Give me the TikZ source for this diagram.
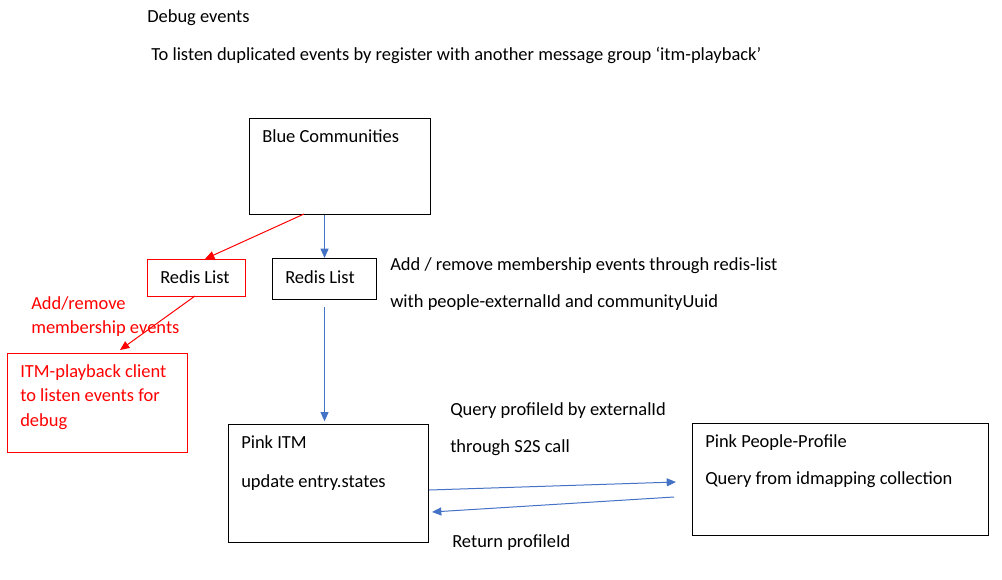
\documentclass[tikz,border=0pt]{standalone}
\usepackage{fontspec}
\setmainfont{Carlito}
\usepackage{tikz}
\usetikzlibrary{positioning,arrows.meta}
\definecolor{flowblue}{HTML}{4472C4}
\definecolor{flowred}{HTML}{FF0000}
\tikzset{
  box/.style={draw, line width=0.8pt, anchor=north west, inner sep=0pt},
  txt/.style={anchor=base west, inner sep=0pt},
  bluearrow/.style={draw=flowblue, line width=0.75pt, -{Triangle[length=7pt,width=6pt]}, color=flowblue},
  redarrow/.style={draw=flowred, line width=0.75pt, -{Triangle[length=7pt,width=6pt]}, color=flowred}
}

\begin{document}
\begin{tikzpicture}[x=0.75pt, y=-0.75pt, font=\fontsize{13.85}{16.6}\selectfont]
  \useasboundingbox (0,0) rectangle (1002,579);

  % header
  \node[txt] (title) at (147,22) {Debug events};
  \node[txt] (intro) at (151,60) {To listen duplicated events by register with another message group ‘itm-playback’};

  % boxes
  \node[box, minimum width=135.75pt, minimum height=72pt] (bc) at (249,118) {};
  \node[txt] at (262,142) {Blue Communities};

  \node[box, draw=flowred, minimum width=73.5pt, minimum height=27.75pt] (redis1) at (147,259) {};
  \node[txt] at (160,283) {Redis List};

  \node[box, minimum width=78pt, minimum height=30.75pt] (redis2) at (272,258) {};
  \node[txt] at (285,283) {Redis List};

  \node[box, draw=flowred, minimum width=135pt, minimum height=74.25pt] (play) at (7,353) {};
  \node[txt, text=flowred] at (20,377) {ITM-playback client};
  \node[txt, text=flowred] at (20,401) {to listen events for};
  \node[txt, text=flowred] at (20,426) {debug};

  \node[box, minimum width=150pt, minimum height=88.5pt] (itm) at (228,424) {};
  \node[txt] at (241,448) {Pink ITM};
  \node[txt] at (241,487) {update entry.states};

  \node[box, minimum width=222pt, minimum height=84pt] (pp) at (692,423) {};
  \node[txt] at (705,447) {Pink People-Profile};
  \node[txt] at (705,484) {Query from idmapping collection};

  % labels
  \node[txt] (evt1) at (390,270) {Add / remove membership events through redis-list};
  \node[txt] (evt2) at (390,307) {with people-externalId and communityUuid};
  \node[txt, text=flowred] (red1) at (31,309) {Add/remove};
  \node[txt, text=flowred] (red2) at (31,333) {membership events};
  \node[txt] (q1) at (450,415) {Query profileId by externalId};
  \node[txt] (q2) at (450,452) {through S2S call};
  \node[txt] (ret) at (452,547) {Return profileId};

  % connectors
  \coordinate (bcleft) at (304,214);
  \coordinate (r1top) at (205,259);
  \coordinate (r1bot) at (195,296);
  \coordinate (playtop) at (120,350);
  \draw[redarrow] (bcleft) -- (r1top);
  \draw[redarrow] (r1bot) -- (playtop);

  \draw[bluearrow] (redis2.north |- bc.south) -- (redis2.north);
  \draw[bluearrow, shorten <=5pt, shorten >=2pt] (redis2.south) -- (redis2.south |- itm.north);

  \coordinate (itmout) at (429,490);
  \coordinate (ppin) at (676,482);
  \coordinate (ppout) at (674,497);
  \coordinate (itmin) at (432,512);
  \draw[bluearrow] (itmout) -- (ppin);
  \draw[bluearrow] (ppout) -- (itmin);
\end{tikzpicture}
\end{document}
